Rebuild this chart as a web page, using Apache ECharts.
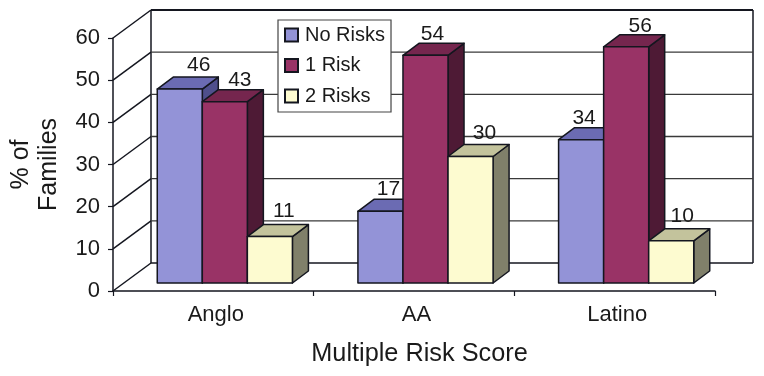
<!DOCTYPE html>
<html>
<head>
<meta charset="utf-8">
<style>html,body{margin:0;padding:0;background:#fff}#c{width:764px;height:376px}</style>
<script src="https://cdn.jsdelivr.net/npm/echarts@6/dist/echarts.min.js"></script>
</head>
<body>
<div id="c"></div>
<script>
const categories = ['Anglo', 'AA', 'Latino'];
const noRisks = [46, 17, 34];
const oneRisk = [43, 54, 56];
const twoRisks = [11, 30, 10];
const yTicks = [0, 10, 20, 30, 40, 50, 60];

const FONT = '"Liberation Sans", Arial, sans-serif';
const INK = '#14161f';
const WALL = [38, -28];      // depth of the chart box
const FLOOR = [11.5, -8];    // where the bars' front face sits inside that depth
const DEPTH = [16, -12];     // depth of one bar
const BAR_SHARE = 0.2245;    // bar width as a share of one category band
// label nudges relative to each bar's centre (dx, dy from the top rear edge)
const NUDGE = [
  [[19, -12], [8, -10], [3, -9]],
  [[15, -9], [7, -9], [14, -9]],
  [[14, -13], [14, -11], [11, -13]]
];
const SKINS = [
  { front: '#9393d7', top: '#6b6bb3', side: '#4f4f8c' },
  { front: '#993366', top: '#75264e', side: '#4e1a35' },
  { front: '#fdfbd0', top: '#c3c39c', side: '#80806a' }
];

function poly(points, fill) {
  return { type: 'polygon', shape: { points },
    style: { fill, stroke: INK, lineWidth: 1.5, lineJoin: 'round' } };
}

function barSeries(name, values, idx) {
  return {
    name, type: 'custom', clip: false, z: 3 + idx,
    itemStyle: { color: SKINS[idx].front, borderColor: INK, borderWidth: 1.5 },
    data: values.map((v, i) => [i, v]),
    encode: { x: 0, y: 1 },
    renderItem(params, api) {
      const cat = api.value(0), val = api.value(1);
      const band = api.size([1, 0])[0];
      const w = band * BAR_SHARE;
      const top = api.coord([cat, val]);
      const base = api.coord([cat, 0]);
      const x0 = top[0] + FLOOR[0] - 1.5 * w + idx * w;
      const x1 = x0 + w;
      const yT = top[1] + FLOOR[1];
      const yB = base[1] + FLOOR[1];
      const dx = DEPTH[0], dy = DEPTH[1];
      const skin = SKINS[idx];
      const nudge = NUDGE[idx][cat];
      return {
        type: 'group',
        children: [
          poly([[x1, yT], [x1 + dx, yT + dy], [x1 + dx, yB + dy], [x1, yB]], skin.side),
          poly([[x0, yT], [x0 + dx, yT + dy], [x1 + dx, yT + dy], [x1, yT]], skin.top),
          poly([[x0, yT], [x1, yT], [x1, yB], [x0, yB]], skin.front),
          { type: 'text', z2: 50, style: {
              text: String(val),
              x: (x0 + x1) / 2 + nudge[0], y: yT + dy + nudge[1],
              align: 'center', verticalAlign: 'middle',
              font: '21px ' + FONT, fill: '#1a1a1a' } }
        ]
      };
    }
  };
}

const wallSeries = {
  type: 'custom', clip: false, z: 1, silent: true,
  data: yTicks.map(v => [0, v]),
  encode: { y: 1 },
  renderItem(params, api) {
    const v = api.value(1);
    const band = api.size([1, 0])[0];
    const front = api.coord([0, v]);
    const xL = front[0] - band / 2;
    const xR = xL + band * categories.length;
    const y = front[1];
    const top = v === yTicks[yTicks.length - 1];
    const bottom = v === 0;
    const line = (x1, y1, x2, y2, color, lw) => ({
      type: 'line', shape: { x1, y1, x2, y2 },
      style: { stroke: color, lineWidth: lw }
    });
    const kids = [
      line(xL, y, xL + WALL[0], y + WALL[1], INK, 1.5),
      line(xL + WALL[0], y + WALL[1], xR + WALL[0], y + WALL[1], top || bottom ? INK : '#3a3a3a', top ? 2 : 1.3)
    ];
    if (bottom) {
      const t = api.coord([0, yTicks[yTicks.length - 1]])[1] + WALL[1];
      kids.push(line(xL + WALL[0], y + WALL[1], xL + WALL[0], t, INK, 1.5));
      kids.push(line(xR + WALL[0], y + WALL[1], xR + WALL[0], t, INK, 1.5));
    }
    return { type: 'group', children: kids };
  }
};

const chart = echarts.init(document.getElementById('c'), null, { renderer: 'canvas' });
chart.setOption({
  animation: false,
  backgroundColor: '#fff',
  textStyle: { fontFamily: FONT },
  grid: { left: 113, right: 49, top: 38, bottom: 85, outerBoundsMode: 'none' },
  legend: {
    data: ['No Risks', '1 Risk', '2 Risks'],
    orient: 'vertical', left: 278, top: 20, z: 20,
    padding: [4, 6, 5, 6],
    itemGap: 8.5, itemWidth: 13, itemHeight: 13, icon: 'rect',
    backgroundColor: '#fff', borderColor: '#444', borderWidth: 1.2,
    align: 'left',
    textStyle: { fontSize: 20, color: '#1a1a1a', fontFamily: FONT, padding: [0, 0, 0, 2], lineHeight: 22 }
  },
  xAxis: {
    type: 'category', data: categories,
    name: 'Multiple Risk Score', nameLocation: 'middle', nameGap: 51,
    nameTextStyle: { fontSize: 25.3, color: '#1a1a1a', fontFamily: FONT, padding: [0, 0, 0, 11] },
    axisLine: { lineStyle: { color: INK, width: 1.5 } },
    axisTick: { show: true, length: 5, lineStyle: { color: INK, width: 1.2 } },
    axisLabel: { fontSize: 22, color: '#1a1a1a', margin: 13, fontFamily: FONT, padding: [0, 0, 0, 5] },
    splitLine: { show: false }
  },
  yAxis: {
    type: 'value', min: 0, max: 60, interval: 10,
    name: '% of\nFamilies', nameLocation: 'middle', nameGap: 50, nameRotate: 90,
    nameTextStyle: { fontSize: 25, color: '#1a1a1a', lineHeight: 28, fontFamily: FONT },
    axisLine: { show: true, lineStyle: { color: INK, width: 1.5 } },
    axisTick: { show: true, length: 5, lineStyle: { color: INK, width: 1.2 } },
    axisLabel: { fontSize: 22, color: '#1a1a1a', margin: 13, fontFamily: FONT },
    splitLine: { show: false }
  },
  series: [
    wallSeries,
    barSeries('No Risks', noRisks, 0),
    barSeries('1 Risk', oneRisk, 1),
    barSeries('2 Risks', twoRisks, 2)
  ]
});
</script>
</body>
</html>
